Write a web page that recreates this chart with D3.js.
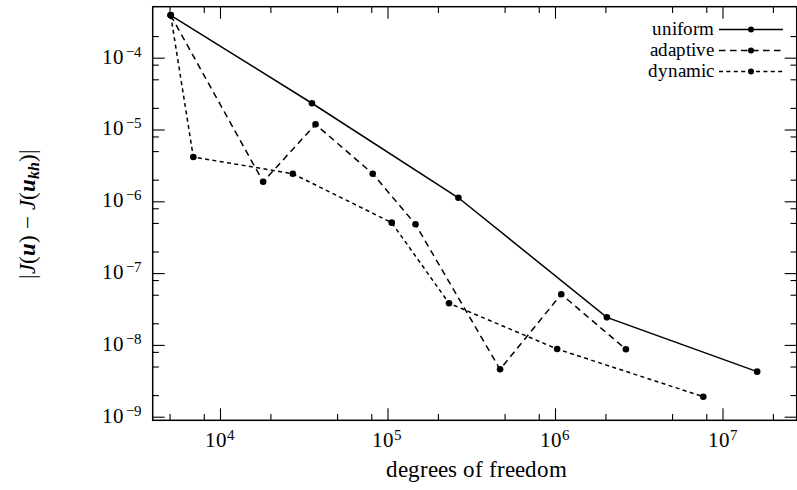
<!DOCTYPE html>
<html><head><meta charset="utf-8">
<script src="https://cdn.jsdelivr.net/npm/d3@7"></script>
<style>
@font-face{font-family:"ChartSerif";src:local("Liberation Serif"),local("LiberationSerif"),local("LiberationSerif-Regular"),local("DejaVu Serif"),local("DejaVuSerif"),local("Noto Serif"),local("NotoSerif-Regular");font-style:normal;font-weight:400}
@font-face{font-family:"ChartSerif";src:local("Liberation Serif Italic"),local("LiberationSerif-Italic"),local("DejaVu Serif Italic"),local("DejaVuSerif-Italic");font-style:italic;font-weight:400}
@font-face{font-family:"ChartSerif";src:local("Liberation Serif Bold Italic"),local("LiberationSerif-BoldItalic"),local("DejaVu Serif Bold Italic"),local("DejaVuSerif-BoldItalic");font-style:italic;font-weight:700}
body{margin:0;background:#fff}
svg{display:block}
svg text{font-family:"ChartSerif","Liberation Serif","DejaVu Serif",serif}
</style>
</head><body>
<svg id="c" width="797" height="490"></svg>
<script>
// ---- data ----
const seriesNames = ["uniform", "adaptive", "dynamic"];
const uniformDofs = [5080, 35400, 265000, 2040000, 16100000];
const uniformErr  = [3.89e-4, 2.32e-5, 1.12e-6, 2.42e-8, 4.24e-9];
const adaptiveDofs = [5080, 18100, 37200, 81600, 147000, 470000, 1090000, 2650000];
const adaptiveErr  = [3.89e-4, 1.87e-6, 1.18e-5, 2.42e-6, 4.78e-7, 4.57e-9, 5.07e-8, 8.69e-9];
const dynamicDofs = [5080, 6930, 27200, 106000, 233000, 1030000, 7680000];
const dynamicErr  = [3.89e-4, 4.14e-6, 2.42e-6, 5.04e-7, 3.80e-8, 8.77e-9, 1.90e-9];

const xMajorTicks = [1e4, 1e5, 1e6, 1e7];
const xTickExponents = ["4", "5", "6", "7"];
const xMinorTicks = [5e3, 8e3, 2e4, 5e4, 8e4, 2e5, 5e5, 8e5, 2e6, 5e6, 8e6, 2e7];
const yMajorTicks = [1e-9, 1e-8, 1e-7, 1e-6, 1e-5, 1e-4];
const yTickExponents = ["−9", "−8", "−7", "−6", "−5", "−4"];
const yMinorTicks = [2e-9, 5e-9, 8e-9, 2e-8, 5e-8, 8e-8, 2e-7, 5e-7, 8e-7,
                     2e-6, 5e-6, 8e-6, 2e-5, 5e-5, 8e-5, 2e-4];
const xTitle = "degrees of freedom";

// ---- layout ----
const L = 152.7, R = 796.7, T = 6.7, B = 420.3;
const svg = d3.select("#c");
const x = d3.scaleLog().domain([3965, 2.773e7]).range([L, R]);
const y = d3.scaleLog().domain([8.91e-10, 5.13e-4]).range([B, T]);

const series = [
  {name: seriesNames[0], xs: uniformDofs, ys: uniformErr, dash: null},
  {name: seriesNames[1], xs: adaptiveDofs, ys: adaptiveErr, dash: "6.5,4.5"},
  {name: seriesNames[2], xs: dynamicDofs, ys: dynamicErr, dash: "4,3.4"}
];

function txt(sel){ return sel.append("text").attr("fill","#000"); }

// ---- axes (ticks inward on all four sides) ----
function styleAxis(g){
  g.select(".domain").remove();
  g.selectAll(".tick line").attr("stroke","#000").attr("stroke-width",1.1);
  g.selectAll(".tick text").remove();
}
const MAJ = 12, MIN = 6.2;
svg.append("g").attr("transform",`translate(0,${B})`)
  .call(d3.axisBottom(x).tickValues(xMajorTicks).tickSizeInner(-MAJ).tickSizeOuter(0).tickFormat("")).call(styleAxis);
svg.append("g").attr("transform",`translate(0,${B})`)
  .call(d3.axisBottom(x).tickValues(xMinorTicks).tickSizeInner(-MIN).tickSizeOuter(0).tickFormat("")).call(styleAxis);
svg.append("g").attr("transform",`translate(0,${T})`)
  .call(d3.axisTop(x).tickValues(xMajorTicks).tickSizeInner(-MAJ).tickSizeOuter(0).tickFormat("")).call(styleAxis);
svg.append("g").attr("transform",`translate(0,${T})`)
  .call(d3.axisTop(x).tickValues(xMinorTicks).tickSizeInner(-MIN).tickSizeOuter(0).tickFormat("")).call(styleAxis);
svg.append("g").attr("transform",`translate(${L},0)`)
  .call(d3.axisLeft(y).tickValues(yMajorTicks).tickSizeInner(-MAJ).tickSizeOuter(0).tickFormat("")).call(styleAxis);
svg.append("g").attr("transform",`translate(${L},0)`)
  .call(d3.axisLeft(y).tickValues(yMinorTicks).tickSizeInner(-MIN).tickSizeOuter(0).tickFormat("")).call(styleAxis);
svg.append("g").attr("transform",`translate(${R},0)`)
  .call(d3.axisRight(y).tickValues(yMajorTicks).tickSizeInner(-MAJ).tickSizeOuter(0).tickFormat("")).call(styleAxis);
svg.append("g").attr("transform",`translate(${R},0)`)
  .call(d3.axisRight(y).tickValues(yMinorTicks).tickSizeInner(-MIN).tickSizeOuter(0).tickFormat("")).call(styleAxis);

// frame
svg.append("rect").attr("x",L).attr("y",T).attr("width",R-L).attr("height",B-T)
  .attr("fill","none").attr("stroke","#000").attr("stroke-width",1.5);

// tick labels
xMajorTicks.forEach((v,i)=>{
  const t = txt(svg).attr("x",x(v)).attr("y",447.3).attr("text-anchor","middle").attr("font-size",21);
  t.append("tspan").text("10");
  t.append("tspan").attr("dy",-7.5).attr("font-size",15).text(xTickExponents[i]);
});
yMajorTicks.forEach((v,i)=>{
  const t = txt(svg).attr("x",141.7).attr("y",y(v)+6).attr("text-anchor","end").attr("font-size",21);
  t.append("tspan").text("10");
  t.append("tspan").attr("dx",1.5).attr("dy",-7).attr("font-size",15).text(yTickExponents[i]);
});

// axis titles
txt(svg).attr("x",476).attr("y",476.5).attr("text-anchor","middle")
  .attr("font-size",23).text(xTitle);

const yt = txt(svg).attr("transform","translate(34.5,213.5) rotate(-90)")
  .attr("text-anchor","middle").attr("font-size",23);
yt.append("tspan").text("|");
yt.append("tspan").attr("font-style","italic").text("J");
yt.append("tspan").text("(");
yt.append("tspan").attr("font-style","italic").attr("font-weight","bold").text("u");
yt.append("tspan").text(") − ");
yt.append("tspan").attr("font-style","italic").text("J");
yt.append("tspan").text("(");
yt.append("tspan").attr("font-style","italic").attr("font-weight","bold").text("u");
yt.append("tspan").attr("dy",4).attr("font-size",16).attr("font-style","italic").attr("font-weight","bold").text("kh");
yt.append("tspan").attr("dy",-4).text(")|");

// ---- series ----
const line = d3.line().x(d=>x(d[0])).y(d=>y(d[1]));
series.forEach(s=>{
  const pts = s.xs.map((v,i)=>[v, s.ys[i]]);
  svg.append("path").datum(pts).attr("d",line).attr("fill","none")
    .attr("stroke","#000").attr("stroke-width",1.5)
    .attr("stroke-dasharray", s.dash);
  svg.append("g").selectAll("circle").data(pts).join("circle")
    .attr("cx",d=>x(d[0])).attr("cy",d=>y(d[1])).attr("r",3.3).attr("fill","#000");
});

// ---- legend ----
const legRowY = [29.5, 50.5, 71.5];
series.forEach((s,i)=>{
  const ly = legRowY[i];
  txt(svg).attr("x",714).attr("y",ly+5.5).attr("text-anchor","end")
    .attr("font-size",18.5).text(s.name);
  svg.append("line").attr("x1",719).attr("x2",783).attr("y1",ly).attr("y2",ly)
    .attr("stroke","#000").attr("stroke-width",1.5).attr("stroke-dasharray",s.dash);
  svg.append("circle").attr("cx",751).attr("cy",ly).attr("r",3).attr("fill","#000");
});
</script>
</body></html>
